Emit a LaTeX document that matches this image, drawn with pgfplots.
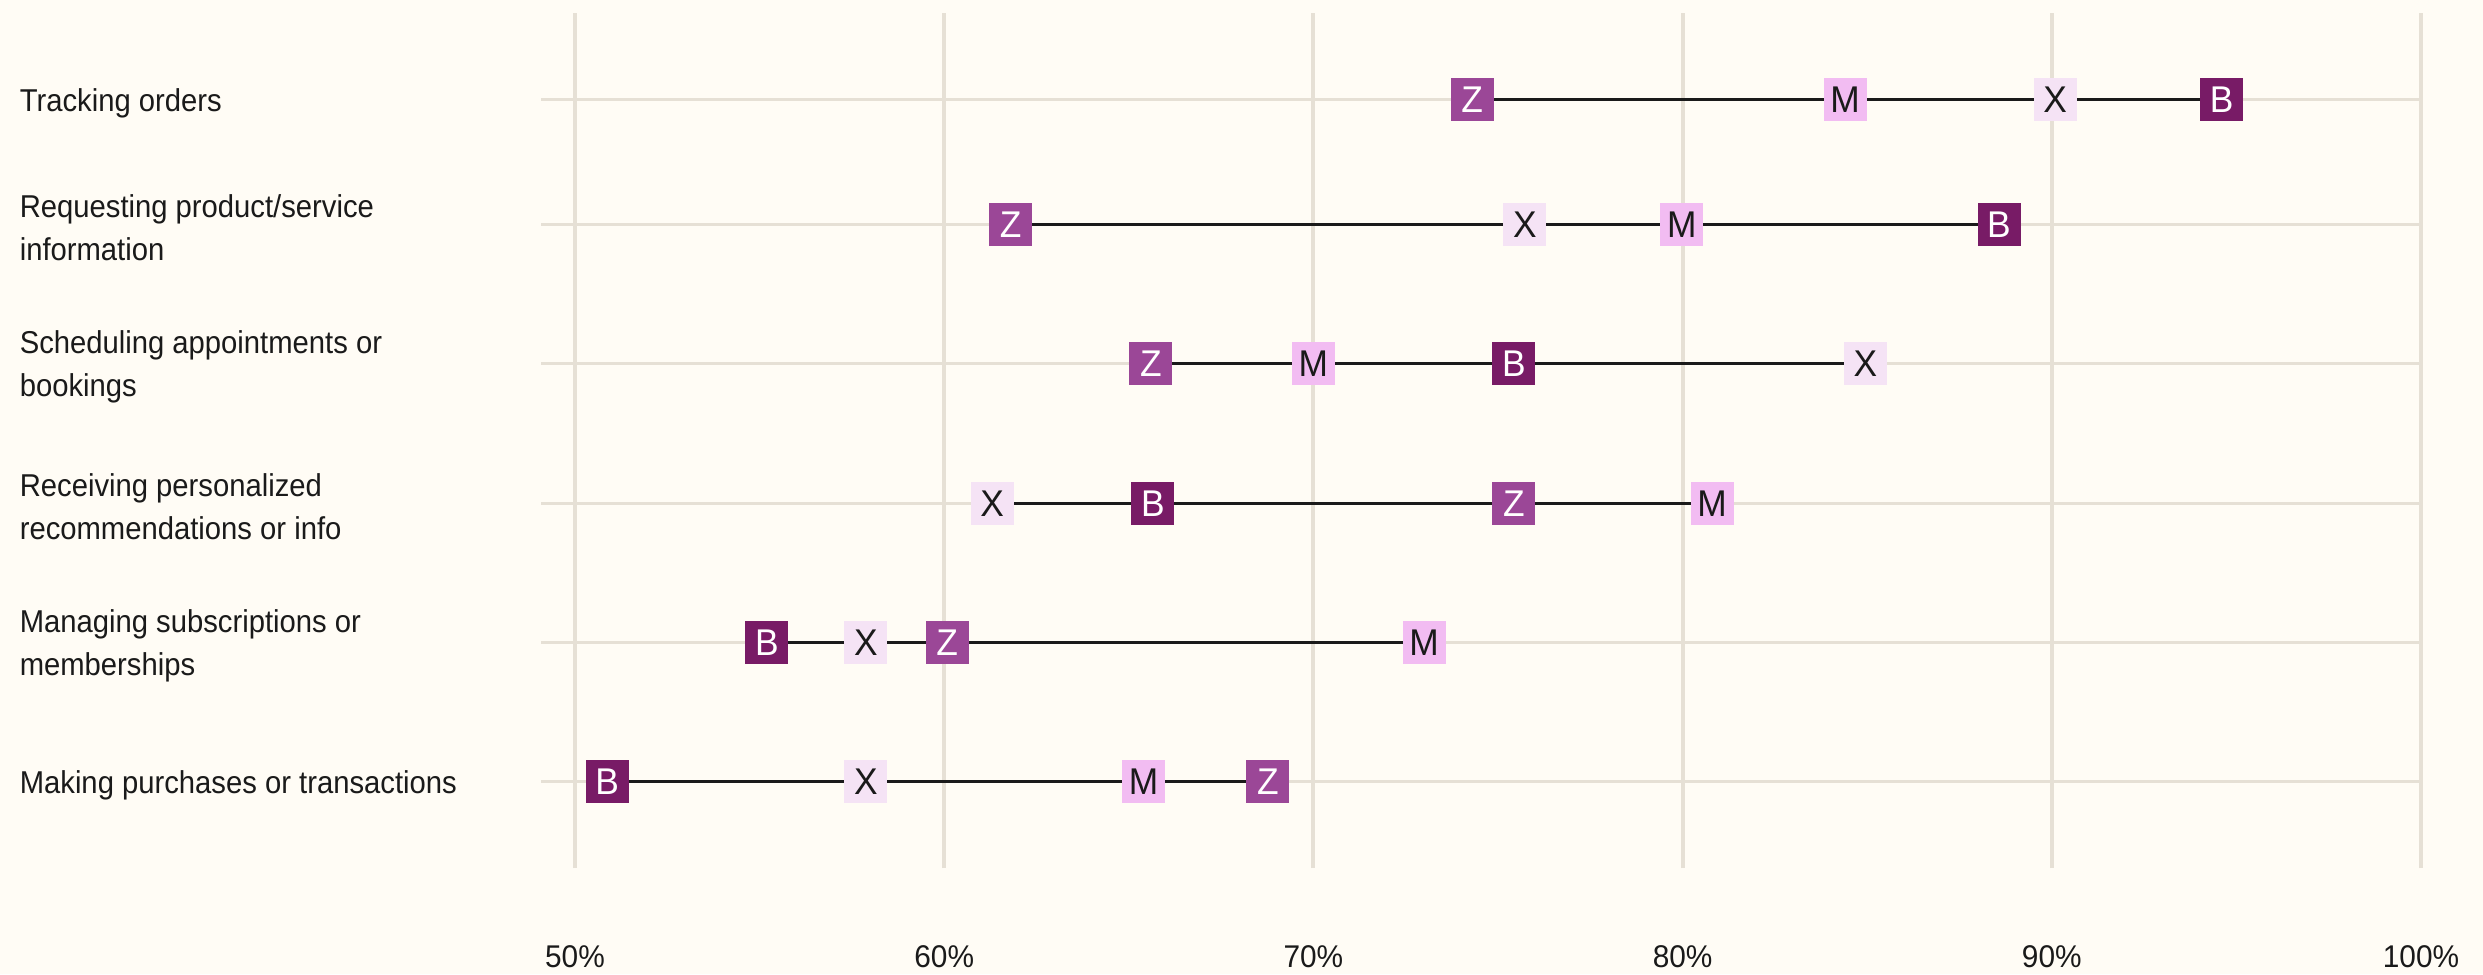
\documentclass[border=0pt]{standalone}
\usepackage{pgfplots}
\pgfplotsset{compat=1.18}
\usepackage{fontspec}
\setmainfont{Liberation Sans}
\newfontfamily\labelfont[FakeStretch=0.925]{Liberation Sans}
\newfontfamily\tickfont[FakeStretch=0.95]{Liberation Sans}
\newfontfamily\markfont[FakeStretch=0.95]{Liberation Sans}
\definecolor{bgc}{HTML}{FFFCF5}
\definecolor{gridc}{HTML}{E6E0D5}
\definecolor{txt}{HTML}{1A1A1A}
\definecolor{Bc}{HTML}{781B66}
\definecolor{Zc}{HTML}{9B4797}
\definecolor{Mc}{HTML}{F2BCF2}
\definecolor{Xc}{HTML}{F5E3F5}
\pgfplotsset{
  lettermark/.style n args={3}{only marks, mark=square*, mark size=5.25pt,
    mark options={draw=#1, fill=#1, line width=0pt},
    nodes near coords={#2},
    every node near coord/.append style={anchor=center, inner sep=0pt, text=#3, draw=none,
      font=\markfont\fontsize{9.3}{10}\selectfont}},
}
\begin{document}
\begin{tikzpicture}
\fill[bgc] (0,0) rectangle (620.75pt,243.5pt);
\begin{axis}[
  at={(135.25pt,26.5pt)}, anchor=south west,
  scale only axis, width=470pt, height=213.75pt,
  xmin=49.08, xmax=100, ymin=-868, ymax=-13,
  clip=false,
  axis line style={draw=none},
  major tick length=0pt,
  xtick={50,60,70,80,90,100},
  xticklabels={50\%,60\%,70\%,80\%,90\%,100\%},
  ytick={-100,-225,-364,-504,-643,-782},
  yticklabels={Tracking orders,
    Requesting product/service\\information,
    Scheduling appointments or\\bookings,
    Receiving personalized\\recommendations or info,
    Managing subscriptions or\\memberships,
    Making purchases or transactions},
  xmajorgrids, ymajorgrids,
  x grid style={gridc, line width=1pt},
  y grid style={gridc, line width=0.75pt},
  xticklabel style={inner sep=0pt, anchor=base, yshift=-24.75pt, text=txt, font=\tickfont\fontsize{7.85}{9}\selectfont},
  yticklabel style={inner sep=0pt, anchor=west, align=left, xshift=-130.5pt, yshift=-0.8pt, text=txt, font=\labelfont\fontsize{7.9}{10.75}\selectfont},
]
% connecting lines
\addplot[txt, line width=0.75pt] coordinates {(74.3,-100) (94.6,-100)};
\addplot[txt, line width=0.75pt] coordinates {(61.8,-225) (88.57,-225)};
\addplot[txt, line width=0.75pt] coordinates {(65.6,-364) (84.95,-364)};
\addplot[txt, line width=0.75pt] coordinates {(61.3,-504) (80.8,-504)};
\addplot[txt, line width=0.75pt] coordinates {(55.2,-643) (73.0,-643)};
\addplot[txt, line width=0.75pt] coordinates {(50.87,-782) (68.77,-782)};
% B
\addplot[lettermark={Bc}{B}{white}]
  coordinates {(94.6,-100) (88.57,-225) (75.43,-364) (65.65,-504) (55.2,-643) (50.87,-782)};
% Z
\addplot[lettermark={Zc}{Z}{white}]
  coordinates {(74.3,-100) (61.8,-225) (65.6,-364) (75.43,-504) (60.08,-643) (68.77,-782)};
% M
\addplot[lettermark={Mc}{M}{txt}]
  coordinates {(84.4,-100) (79.98,-225) (70.0,-364) (80.8,-504) (73.0,-643) (65.4,-782)};
% X
\addplot[lettermark={Xc}{X}{txt}]
  coordinates {(90.09,-100) (75.73,-225) (84.95,-364) (61.3,-504) (57.88,-643) (57.88,-782)};
\end{axis}
\pgfresetboundingbox
\path (0,0) rectangle (620.75pt,243.5pt);
\end{tikzpicture}
\end{document}
